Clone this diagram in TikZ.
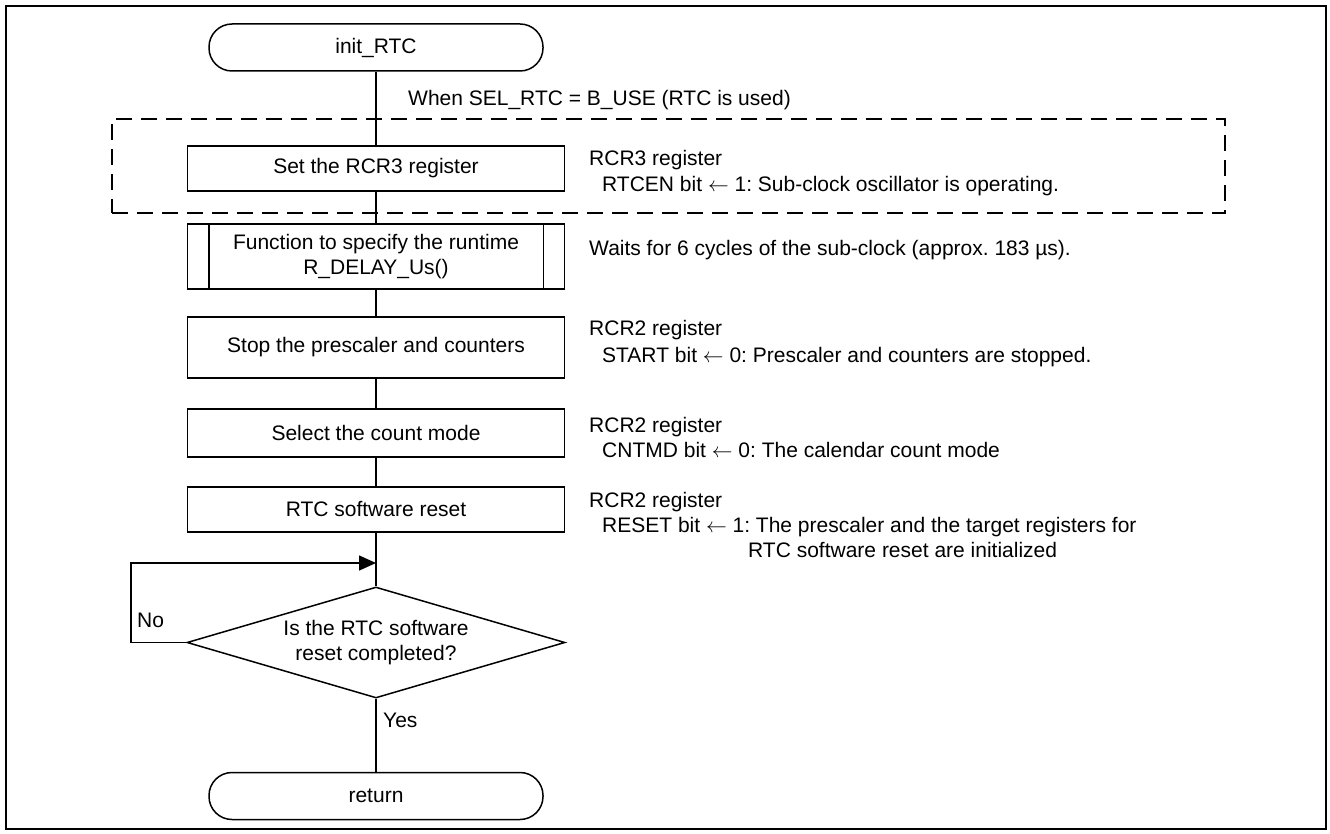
\documentclass[tikz,border=0pt]{standalone}
\usepackage{fontspec}
\setmainfont{Liberation Sans}
\usetikzlibrary{shapes.geometric,arrows.meta}
\frenchspacing
\tikzset{
  proc/.style={draw, line width=1.5pt, minimum width=377pt, inner sep=0pt, align=center},
  term/.style={draw, line width=1.5pt, rounded corners=23pt, minimum width=334pt, minimum height=47pt, inner sep=0pt},
  decision/.style={draw, line width=1.5pt, shape=diamond, aspect=3.4, minimum width=378pt, minimum height=111pt, inner sep=0pt, align=center},
  group/.style={draw, line width=1.5pt, dash pattern=on 16pt off 9pt, minimum width=1113pt, minimum height=94pt, inner sep=0pt},
  flow/.style={line width=1.5pt},
  backflow/.style={line width=1.5pt, -{Triangle[length=17pt,width=15pt]}},
  note/.style={anchor=base west, inner sep=0pt},
}
\begin{document}
\begin{tikzpicture}[x=1pt,y=-1pt,font=\fontsize{21pt}{25pt}\selectfont]
\useasboundingbox (0,0) rectangle (1330,834);
\draw[line width=2.8pt] (6,6) rectangle (1326,829);

% group (dashed)
\node[group] (grp) at (668.5,166) {};

% main column
\node[term] (start) at (376,47.5) {init\_RTC};
\node[proc, minimum height=45pt] (setr) at (376,168.5) {Set the RCR3 register};
\node[proc, minimum height=65pt] (func) at (376,256.5) {Function to specify the runtime\\R\_DELAY\_Us()};
\draw[line width=1.5pt] ([xshift=22pt]func.north west) -- ([xshift=22pt]func.south west);
\draw[line width=1.5pt] ([xshift=-22pt]func.north east) -- ([xshift=-22pt]func.south east);
\node[proc, minimum height=61pt] (stop) at (376,347.5) {Stop the prescaler and counters};
\node[proc, minimum height=48pt] (sel) at (376,433) {Select the count mode};
\node[proc, minimum height=45pt] (rst) at (376,509.5) {RTC software reset};
\node[decision] (dec) at (376,642.5) {Is the RTC software\\reset completed?};
\node[term] (ret) at (376,796) {return};

\coordinate (join) at (376,563);
\coordinate (nocorner) at (131,563);

% connectors
\draw[flow] (start.south) -- (setr.north);
\draw[flow] (setr.south) -- (func.north);
\draw[flow] (func.south) -- (stop.north);
\draw[flow] (stop.south) -- (sel.north);
\draw[flow] (sel.south) -- (rst.north);
\draw[flow] (rst.south) -- (dec.north);
\draw[flow] (dec.south) -- (ret.north);
\draw[backflow] (dec.west) -| (nocorner) -- (join);

% branch labels
\node[note] (lno) at (137,627.5) {No};
\node[note] (lyes) at (383,727.5) {Yes};

% annotations
\node[note] (cond) at (408,105.5) {When SEL\_RTC = B\_USE (RTC is used)};
\node[note] (n1a) at (589,165.5) {RCR3 register};
\node[note] (n1b) at (602,191.5) {RTCEN bit $\leftarrow$ 1: Sub-clock oscillator is operating.};
\node[note] (n2a) at (589,255.5) {Waits for 6 cycles of the sub-clock (approx. 183 µs).};
\node[note] (n3a) at (589,335.5) {RCR2 register};
\node[note] (n3b) at (602,362.5) {START bit $\leftarrow$ 0: Prescaler and counters are stopped.};
\node[note] (n4a) at (589,432.5) {RCR2 register};
\node[note] (n4b) at (602,457.5) {CNTMD bit $\leftarrow$ 0: The calendar count mode};
\node[note] (n5a) at (589,507.5) {RCR2 register};
\node[note] (n5b) at (602,532.5) {RESET bit $\leftarrow$ 1: The prescaler and the target registers for};
\node[note] (n5c) at (748,557.5) {RTC software reset are initialized};
\end{tikzpicture}
\end{document}
